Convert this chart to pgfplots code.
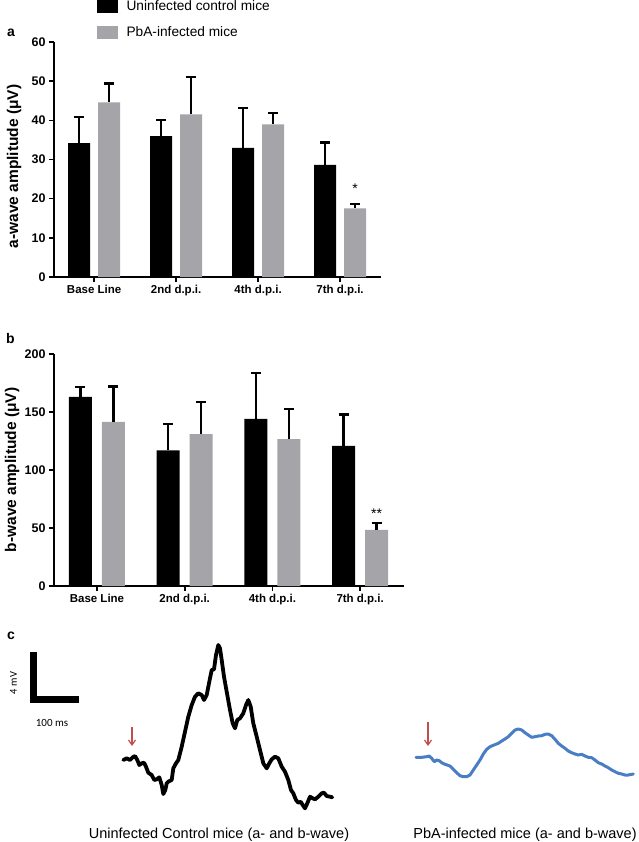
\documentclass[border=0pt]{standalone}
\usepackage{pgfplots}
\pgfplotsset{compat=1.18}
\usepackage{pgfplotstable}
\usepackage{fontspec}
\setmainfont{Liberation Sans}
\newfontfamily\calibri{Carlito}
\usetikzlibrary{arrows.meta}
\definecolor{pba}{HTML}{A5A5A9}
\definecolor{trace}{HTML}{4A7EC4}
\definecolor{arrowred}{HTML}{C0504D}

% a-wave, mean and upper SD (uV)
\pgfplotstableread{
x y e
0 34.2 6.7
1 36.0 4.1
2 33.0 10.1
3 28.6 5.8
}\actrl
\pgfplotstableread{
x y e
0 44.6 4.8
1 41.5 9.6
2 39.0 2.9
3 17.5 1.1
}\apba
% b-wave
\pgfplotstableread{
x y e
0 163.0 8.6
1 117.0 22.6
2 144.0 39.6
3 120.7 27.3
}\bctrl
\pgfplotstableread{
x y e
0 141.4 30.6
1 131.0 27.6
2 126.7 25.9
3 48.3 6.0
}\bpba

\pgfplotsset{
  ergbars/.style={
    scale only axis, anchor=south west, ybar,
    xmin=-0.49, xmax=3.5, ymin=0,
    xtick={0,1,2,3},
    xticklabels={Base Line, 2nd d.p.i., 4th d.p.i., 7th d.p.i.},
    axis lines*=left, axis line style={line width=1.6pt},
    tick style={line width=1.6pt, black}, major tick length=5pt,
    tick align=outside, tick pos=left,
    /pgf/number format/assume math mode=true,
    xticklabel style={font=\bfseries\fontsize{11.5}{13}\selectfont},
    yticklabel style={font=\bfseries\fontsize{12.5}{14}\selectfont},
    ylabel style={font=\bfseries\fontsize{15.5}{17}\selectfont, anchor=center},
  },
  ebar/.style={
    error bars/.cd, y dir=plus, y explicit,
    error bar style={draw=black, solid, line width=2.5pt},
    error mark options={rotate=90, mark size=5pt, line width=2.5pt, draw=black, fill=black},
  },
}

\begin{document}
\begin{tikzpicture}
\useasboundingbox (0pt,0pt) rectangle (638pt,-842pt);

% ---- panel a
\begin{axis}[ergbars,
  at={(54pt,-277pt)}, width=327pt, height=235pt,
  ymax=60, ytick={0,10,...,60},
  bar width=22pt,
  ylabel={a-wave amplitude (μV)},
  ylabel style={at={(axis description cs:-0.1223,0.47)}},
  legend style={at={(axis description cs:0.1315,1.1787)}, anchor=north west,
    draw=none, fill=none, inner sep=0pt, row sep=13pt, column sep=9pt,
    font=\fontsize{13.7}{16}\selectfont, nodes={inner sep=0pt, anchor=west}},
  legend cell align=left,
]
\addplot[fill=black, draw=none, bar shift=-15pt, forget plot, ebar]
  table[x=x, y=y, y error=e] {\actrl};
\addplot[fill=pba, draw=none, bar shift=15pt, forget plot, ebar]
  table[x=x, y=y, y error=e] {\apba};
\addlegendimage{legend image code/.code={\fill[black] (0pt,-6pt) rectangle (20pt,6pt);}}
\addlegendentry{Uninfected control mice}
\addlegendimage{legend image code/.code={\fill[pba] (0pt,-6pt) rectangle (20pt,6pt);}}
\addlegendentry{PbA-infected mice}
\node[anchor=base, inner sep=0pt, font=\fontsize{14}{14}\selectfont, xshift=15pt]
  at (axis cs:3,21.2) {*};
\end{axis}

% ---- panel b
\begin{axis}[ergbars,
  at={(54pt,-586pt)}, width=350pt, height=232pt,
  ymax=200, ytick={0,50,...,200},
  bar width=23pt,
  ylabel={b-wave amplitude (μV)},
  ylabel style={at={(axis description cs:-0.12,0.5)}},
]
\addplot[fill=black, draw=none, bar shift=-16.5pt, ebar]
  table[x=x, y=y, y error=e] {\bctrl};
\addplot[fill=pba, draw=none, bar shift=16.5pt, ebar]
  table[x=x, y=y, y error=e] {\bpba};
\node[anchor=base, inner sep=0pt, font=\fontsize{14}{14}\selectfont, xshift=16.5pt]
  at (axis cs:3,58.6) {**};
\end{axis}

% ---- panel c: ERG traces, in picture pixels
\begin{axis}[at={(0pt,-842pt)}, anchor=south west, scale only axis,
  width=638pt, height=222pt, xmin=0, xmax=638, ymin=620, ymax=842,
  y dir=reverse, hide axis, clip=false]
% scale bar
\addplot[black, line width=7pt, line join=miter, line cap=butt] coordinates
  {(33.3,651.7) (33.3,699.5) (79,699.5)};
% uninfected control
\addplot[black, line width=3.8pt, line join=round, line cap=round] coordinates {
(123.3,760.0) (126.7,758.3) (130.0,760.0) (132.7,757.3) (135.0,756.0)
(137.3,760.0) (139.3,765.0) (141.7,763.3) (144.0,762.7) (146.0,766.7)
(148.3,772.7) (151.7,775.0) (154.3,780.0) (156.7,779.3) (159.3,777.3)
(161.7,785.0) (163.3,794.0) (165.3,790.0) (166.7,783.3) (168.3,781.7)
(171.7,780.0) (173.3,768.3) (176.0,763.3) (178.3,760.0) (181.7,746.7)
(185.0,731.7) (188.3,716.7) (191.7,705.0) (195.0,696.7) (198.3,693.3)
(201.7,695.0) (204.0,700.0) (206.7,695.0) (209.3,681.7) (211.7,670.0)
(214.0,669.3) (216.0,655.0) (218.3,645.0) (220.0,648.3) (221.7,660.0)
(224.0,676.7) (226.7,691.7) (230.0,710.0) (232.7,723.3) (235.0,728.3)
(237.3,720.0) (240.0,718.3) (243.3,713.3) (246.0,705.0) (248.3,700.0)
(250.7,706.7) (253.3,723.3) (256.7,736.7) (260.0,750.0) (263.3,763.3)
(266.7,768.3) (269.3,763.3) (271.7,759.3) (275.0,756.7) (278.3,758.3)
(281.7,766.7) (285.0,771.7) (288.3,780.0) (291.0,790.0) (293.3,793.3)
(296.0,800.0) (298.3,802.7) (300.7,801.7) (302.7,805.0) (305.0,808.3)
(307.3,803.3) (310.0,796.7) (312.7,798.3) (315.0,799.3) (318.3,796.7)
(321.7,793.3) (324.0,792.7) (326.7,796.0) (330.0,796.7) (332.3,797.3)
};
% PbA-infected
\addplot[trace, line width=3pt, line join=round, line cap=round] coordinates {
(416.0,757.3) (421.7,757.3) (426.7,756.7) (429.3,756.0) (431.7,758.3)
(434.3,761.7) (436.7,760.0) (439.3,760.7) (441.7,762.7) (445.0,764.3)
(450.0,766.0) (453.3,769.3) (456.7,772.7) (460.0,775.7) (463.3,776.7)
(466.7,776.7) (470.0,775.0) (473.3,770.0) (476.7,765.0) (480.0,760.0)
(483.3,754.0) (486.7,749.3) (490.0,746.7) (494.0,745.0) (498.3,743.3)
(501.7,741.0) (505.0,739.0) (508.3,736.7) (511.7,733.3) (515.0,730.0)
(518.3,729.0) (521.7,730.0) (525.0,732.7) (528.3,735.0) (531.7,737.3)
(535.0,736.7) (538.3,736.0) (541.7,735.7) (545.0,734.3) (548.3,734.0)
(551.7,735.7) (555.0,739.3) (558.3,743.3) (561.7,746.0) (565.0,748.3)
(568.3,751.0) (571.7,752.7) (575.0,754.0) (578.3,755.0) (581.7,754.3)
(585.0,756.0) (588.3,757.3) (591.7,757.7) (595.0,760.0) (598.3,762.7)
(601.7,764.0) (605.0,766.0) (608.3,767.7) (611.7,770.0) (615.0,771.7)
(618.3,773.3) (621.7,774.0) (625.0,775.0) (628.3,775.0) (631.7,774.3)
(633.3,774.0)
};
% stimulus arrows
\draw[arrowred, line width=1.2pt, -{Straight Barb[length=5pt, width=7pt]}]
  (axis cs:132,727) -- (axis cs:132,746);
\draw[arrowred, line width=1.2pt, -{Straight Barb[length=5pt, width=7pt]}]
  (axis cs:428,722) -- (axis cs:428,746);
\end{axis}

% panel letters
\node[anchor=base west, inner sep=0pt, font=\bfseries\fontsize{14}{14}\selectfont] at (7pt,-37pt) {a};
\node[anchor=base west, inner sep=0pt, font=\bfseries\fontsize{14}{14}\selectfont] at (6pt,-343pt) {b};
\node[anchor=base west, inner sep=0pt, font=\bfseries\fontsize{14}{14}\selectfont] at (7pt,-639pt) {c};

% scale bar labels and captions
\node[rotate=90, inner sep=0pt, font=\calibri\fontsize{10.5}{12}\selectfont] at (13.5pt,-683pt) {4 mV};
\node[anchor=base, inner sep=0pt, font=\calibri\fontsize{11}{12}\selectfont] at (52pt,-726pt) {100 ms};
\node[anchor=base, inner sep=0pt, font=\fontsize{14.5}{16}\selectfont] at (219pt,-838pt)
  {Uninfected Control mice (a- and b-wave)};
\node[anchor=base, inner sep=0pt, font=\fontsize{14.5}{16}\selectfont] at (525pt,-838pt)
  {PbA-infected mice (a- and b-wave)};
\end{tikzpicture}
\end{document}
